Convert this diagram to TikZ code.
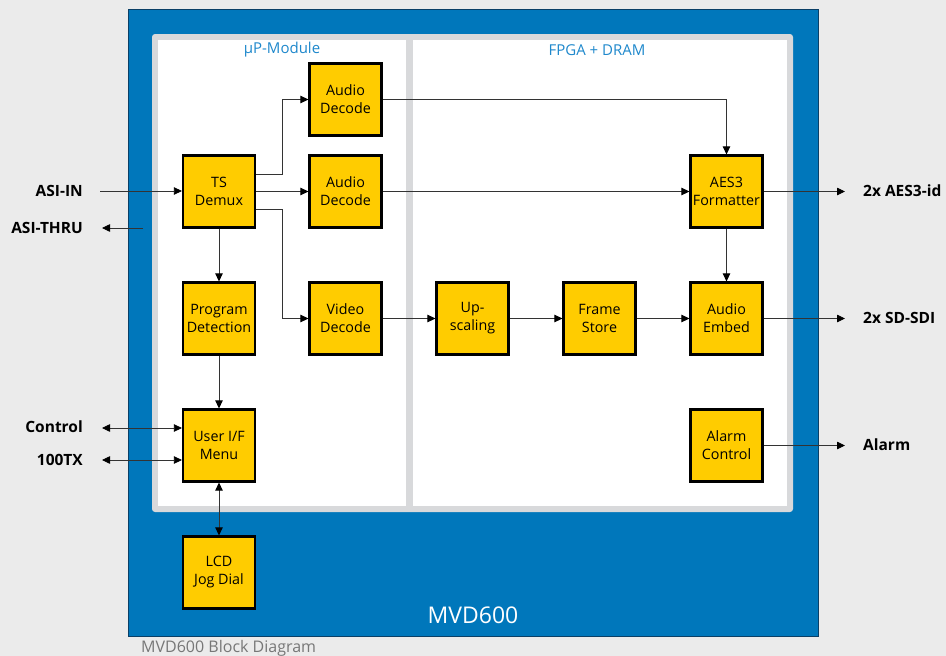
\documentclass[tikz,border=0pt]{standalone}
\usepackage{fontspec}
\setmainfont{Open Sans}
\usetikzlibrary{arrows.meta}
\definecolor{bg}{HTML}{EBEBEB}
\definecolor{mvdblue}{HTML}{0077BB}
\definecolor{mvdedge}{HTML}{0A3F66}
\definecolor{panelgray}{HTML}{D8D9DB}
\definecolor{labelblue}{HTML}{1E88CC}
\definecolor{boxyellow}{HTML}{FFCC00}
\definecolor{wire}{HTML}{333333}
\definecolor{capgray}{HTML}{777777}
\tikzset{
  blk/.style={draw=black, fill=boxyellow, line width=2.2pt, minimum width=72pt, minimum height=72pt,
    inner sep=0pt, align=center, font=\fontsize{14.3}{18}\selectfont},
  io/.style={font=\fontsize{15.5}{18}\selectfont\bfseries, inner sep=0pt},
  sec/.style={font=\fontsize{15}{18}\selectfont, text=labelblue, inner sep=0pt},
  wr/.style={draw=wire, line width=0.8pt, -{Triangle[length=8pt,width=7.5pt,color=black]}},
  wrb/.style={draw=wire, line width=0.8pt, {Triangle[length=8pt,width=7.5pt,color=black]}-{Triangle[length=8pt,width=7.5pt,color=black]}},
}
\begin{document}
\begin{tikzpicture}[x=1pt,y=-1pt]
\useasboundingbox (0,0) rectangle (946,656);
\fill[bg] (0,0) rectangle (946,656);
% main blue box
\filldraw[fill=mvdblue, draw=mvdedge, line width=0.8pt] (128,9) rectangle (818,636);
% inner panel
\fill[panelgray, rounded corners=3pt] (152,34) rectangle (793,512);
\fill[white] (158,40) rectangle (406,506);
\fill[white] (413,40) rectangle (787,506);
\node[sec] (secup) at (282,50) {µP-Module};
\node[sec] (secfpga) at (597,50) {FPGA + DRAM};
\node[font=\fontsize{23}{26}\selectfont, text=white, inner sep=0pt] (title) at (473,615) {MVD600};
\node[font=\fontsize{16}{18}\selectfont, text=capgray, inner sep=0pt, anchor=west] (caption) at (141,648) {MVD600 Block Diagram};

% blocks
\node[blk] (ts) at (219,191.5) {TS\\Demux};
\node[blk] (pd) at (219,318.5) {Program\\Detection};
\node[blk] (ui) at (219,445.5) {User I/F\\Menu};
\node[blk] (lcd) at (219,572.5) {LCD\\Jog Dial};
\node[blk] (ad1) at (345.5,99.5) {Audio\\Decode};
\node[blk] (ad2) at (345.5,191.5) {Audio\\Decode};
\node[blk] (vd) at (345.5,318.5) {Video\\Decode};
\node[blk] (up) at (472.5,318.5) {Up-\\scaling};
\node[blk] (fs) at (599.5,318.5) {Frame\\Store};
\node[blk] (ae) at (726.5,318.5) {Audio\\Embed};
\node[blk] (aes) at (726.5,191.5) {AES3\\Formatter};
\node[blk] (al) at (726.5,445.5) {Alarm\\Control};

% io labels
\node[io, anchor=east] (lasiin) at (83,191) {ASI-IN};
\node[io, anchor=east] (lasithru) at (83,228) {ASI-THRU};
\node[io, anchor=east] (lctl) at (83,427) {Control};
\node[io, anchor=east] (l100) at (83,460) {100TX};
\node[io, anchor=west] (laes) at (863,191) {2x AES3-id};
\node[io, anchor=west] (lsdi) at (863,318) {2x SD-SDI};
\node[io, anchor=west] (lal) at (863,445) {Alarm};

\coordinate (pasiin) at (100,191);
\coordinate (pthru0) at (143,228);
\coordinate (pthru1) at (102,228);
\coordinate (pctl) at (102,428);
\coordinate (p100) at (102,460);
\coordinate (paes) at (845,191.5);
\coordinate (psdi) at (845,318.5);
\coordinate (pal) at (845,445.5);

% connectors
\draw[wr] (pasiin) -- (ts.west |- pasiin);
\draw[wr] (pthru0) -- (pthru1);
\draw[wrb] (pctl) -- (ui.west |- pctl);
\draw[wrb] (p100) -- (ui.west |- p100);
\draw[wr] (ts.east |- 0,174) -- (282,174) |- (ad1.west);
\draw[wr] (ts.east) -- (ad2.west);
\draw[wr] (ts.east |- 0,209) -- (282,209) |- (vd.west);
\draw[wr] (ts.south) -- (pd.north);
\draw[wr] (pd.south) -- (ui.north);
\draw[wrb] (ui.south) -- (lcd.north);
\draw[wr] (ad1.east) -| (aes.north);
\draw[wr] (ad2.east) -- (aes.west);
\draw[wr] (vd.east) -- (up.west);
\draw[wr] (up.east) -- (fs.west);
\draw[wr] (fs.east) -- (ae.west);
\draw[wr] (aes.south) -- (ae.north);
\draw[wr] (aes.east) -- (paes);
\draw[wr] (ae.east) -- (psdi);
\draw[wr] (al.east) -- (pal);
\end{tikzpicture}
\end{document}
